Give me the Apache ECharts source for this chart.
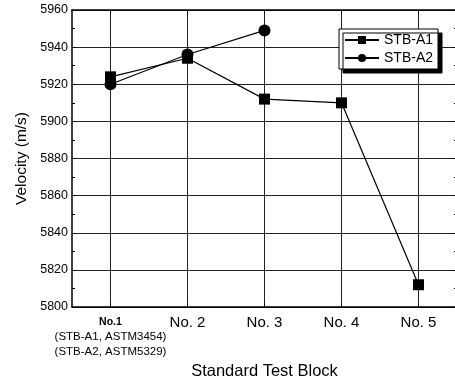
<!DOCTYPE html>
<html><head><meta charset="utf-8">
<script src="https://cdn.jsdelivr.net/npm/echarts@6/dist/echarts.min.js"></script>
<style>html,body{margin:0;padding:0;background:#fff}#c{width:455px;height:379px}</style>
</head><body><div id="c"></div>
<script>
const categories = ['No.1', 'No. 2', 'No. 3', 'No. 4', 'No. 5'];
const firstLabelNotes = ['(STB-A1, ASTM3454)', '(STB-A2, ASTM5329)'];
const stbA1 = [5924, 5934, 5912, 5910, 5812];
const stbA2 = [5920, 5936, 5949, null, null];
const yTicks = { min: 5800, max: 5960, interval: 20 };

const chart = echarts.init(document.getElementById('c'), null, { renderer: 'canvas' });
const FONT = 'Liberation Sans, Arial, sans-serif';
const gridLine = { show: true, lineStyle: { color: '#222', width: 1, type: 'solid' } };
chart.setOption({
  animation: false,
  backgroundColor: '#fff',
  grid: { left: 72, top: 10, width: 385, height: 297, containLabel: false, outerBoundsMode: 'none' },
  legend: {
    orient: 'vertical', left: 339, top: 29,
    padding: [4, 5, 4, 5],
    itemWidth: 34, itemHeight: 10, itemGap: 4,
    backgroundColor: '#fff', borderColor: '#000', borderWidth: 1,
    shadowColor: '#000', shadowBlur: 0, shadowOffsetX: 4, shadowOffsetY: 4,
    textStyle: { fontFamily: FONT, fontSize: 14, color: '#000' },
    data: ['STB-A1', 'STB-A2']
  },
  xAxis: [{
    type: 'category', data: categories, boundaryGap: true,
    axisLine: { lineStyle: { color: '#000', width: 1.5 } },
    axisTick: { show: true, interval: 0, alignWithLabel: true, inside: true, length: 4, lineStyle: { color: '#000' } },
    splitLine: { show: true, interval: 0, alignWithLabel: true, lineStyle: { color: '#222', width: 1 } },
    axisLabel: {
      interval: 0, margin: 8, fontFamily: FONT, color: '#000', fontSize: 15,
      formatter: function (v, i) {
        if (i === 0) return '{b|' + v + '}\n' + firstLabelNotes.map(s => '{s|' + s + '}').join('\n');
        return '{n|' + v + '}';
      },
      rich: {
        n: { fontFamily: FONT, fontSize: 15, lineHeight: 15, color: '#000' },
        b: { fontFamily: FONT, fontSize: 10.5, fontWeight: 'bold', lineHeight: 15, color: '#000' },
        s: { fontFamily: FONT, fontSize: 11.5, lineHeight: 14.5, color: '#000' }
      }
    },
    name: 'Standard Test Block', nameLocation: 'middle', nameGap: 53,
    nameTextStyle: { fontFamily: FONT, fontSize: 16.5, color: '#000' }
  }, {
    type: 'category', data: categories, position: 'top', boundaryGap: true,
    axisLine: { lineStyle: { color: '#000', width: 1.5 } },
    axisTick: { show: true, interval: 0, alignWithLabel: true, inside: true, length: 4, lineStyle: { color: '#000' } },
    axisLabel: { show: false }, splitLine: { show: false }
  }],
  yAxis: [{
    type: 'value', min: yTicks.min, max: yTicks.max, interval: yTicks.interval,
    axisLine: { show: true, lineStyle: { color: '#000', width: 1.5 } },
    axisTick: { show: true, inside: true, length: 4, lineStyle: { color: '#000' } },
    minorTick: { show: true, splitNumber: 2, length: 3, lineStyle: { color: '#000' } },
    splitLine: gridLine,
    axisLabel: { margin: 4, fontFamily: FONT, fontSize: 12.5, color: '#000', formatter: v => String(v) },
    name: 'Velocity (m/s)', nameLocation: 'middle', nameGap: 42,
    nameTextStyle: { fontFamily: FONT, fontSize: 15.5, color: '#000' }
  }, {
    type: 'value', position: 'right', min: yTicks.min, max: yTicks.max, interval: yTicks.interval,
    axisLine: { show: true, lineStyle: { color: '#000', width: 1.5 } },
    axisTick: { show: true, inside: true, length: 4, lineStyle: { color: '#000' } },
    minorTick: { show: true, splitNumber: 2, length: 3, lineStyle: { color: '#000' } },
    splitLine: { show: false }, axisLabel: { show: false }
  }],
  series: [{
    name: 'STB-A1', type: 'line', data: stbA1, symbol: 'rect', symbolSize: 11,
    lineStyle: { color: '#000', width: 1.2 }, itemStyle: { color: '#000' }, z: 3
  }, {
    name: 'STB-A2', type: 'line', data: stbA2, symbol: 'circle', symbolSize: 12,
    lineStyle: { color: '#000', width: 1.2 }, itemStyle: { color: '#000' }, z: 4
  }]
});
</script></body></html>
